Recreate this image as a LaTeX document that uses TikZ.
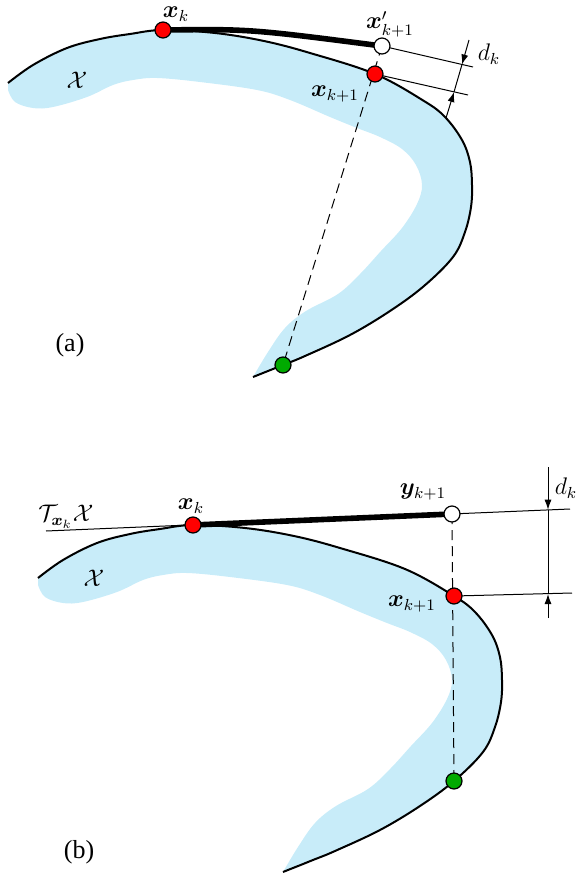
\documentclass[tikz,border=0pt]{standalone}
\usepackage{amsmath,bm}
\usepackage{fontspec}
\setmainfont{Liberation Serif}
\usetikzlibrary{arrows.meta}
\definecolor{regionblue}{RGB}{200,236,249}
\definecolor{dotgreen}{RGB}{0,170,0}
\begin{document}
\begin{tikzpicture}[x=0.5pt,y=-0.5pt,
  lbl/.style={inner sep=1pt, font=\fontsize{12}{14}\selectfont},
  tag/.style={inner sep=1pt, font=\fontsize{13}{15}\selectfont},
  region/.style={fill=regionblue},
  bound/.style={line width=1pt},
  thickarc/.style={line width=2.8pt},
  thinline/.style={line width=0.5pt},
  dashedline/.style={line width=0.5pt, dash pattern=on 5pt off 3pt},
  dimline/.style={line width=0.5pt},
  dimarrow/.style={line width=0.5pt,-{Latex[length=5pt,width=3.5pt]}},
  pt/.style={circle, draw=black, line width=0.6pt, minimum size=8pt, inner sep=0pt},
  redpt/.style={pt, fill=red},
  whitept/.style={pt, fill=white},
  greenpt/.style={pt, fill=dotgreen}]

\useasboundingbox (0,0) rectangle (576,873);

% the region and its boundary, drawn in both panels
\foreach \dx/\dy in {0/0,30/495}{
 \begin{scope}[shift={(\dx,\dy)}]
  \fill[region] plot[smooth,tension=0.6] coordinates {(8,83) (33,65) (67,48) (100,39) (130,34) (163,30) (215,33) (264,41) (310,53) (375,74) (424,101) (445,117) (462,140) (470,162) (472,185) (471,207) (465,232) (453,257) (424,286) (390,311) (350,335) (305,356) (283,365) (253,377)}
   -- plot[smooth,tension=0.6] coordinates {(253,377) (268,352) (285,328) (306,311) (338,294) (360,274) (381,251) (402,228) (417,204) (422,185) (416,165) (402,149) (380,137) (357,128) (330,117) (290,100) (257,90) (200,82) (157,78) (133,80) (113,85) (87,97) (53,107) (33,108) (15,102) (8,90)} -- cycle;
  \draw[bound] plot[smooth,tension=0.6] coordinates {(8,83) (33,65) (67,48) (100,39) (130,34) (163,30) (215,33) (264,41) (310,53) (375,74) (424,101) (445,117) (462,140) (470,162) (472,185) (471,207) (465,232) (453,257) (424,286) (390,311) (350,335) (305,356) (283,365) (253,377)};
 \end{scope}}

% ---------------- panel (a)
\coordinate (axk) at (163,30);
\coordinate (axp) at (382,46);
\coordinate (axn) at (375,74);
\coordinate (ag) at (283,365);
\coordinate (ae1) at (473,67);
\coordinate (ae2) at (468,95);
\coordinate (ad1) at (469,40);
\coordinate (ad2) at (462,64.5);
\coordinate (ad3) at (454,92);
\coordinate (ad4) at (446,118);

\draw[dashedline] (axp) -- (ag);
\draw[thinline] (axp) -- (ae1);
\draw[thinline] (axn) -- (ae2);
\draw[dimline] (ad2) -- (ad3);
\draw[dimarrow] (ad1) -- (ad2);
\draw[dimarrow] (ad4) -- (ad3);
\draw[thickarc] (axk) .. controls (250,29) .. (axp);

\node[redpt] (axkdot) at (axk) {};
\node[whitept] (axpdot) at (axp) {};
\node[redpt] (axndot) at (axn) {};
\node[greenpt] (agdot) at (ag) {};

\node[lbl] (lxk) at (176,14) {$\bm{x}_k$};
\node[lbl] (lxp) at (390,24) {$\bm{x}'_{k+1}$};
\node[lbl] (ldk) at (489,54) {$d_k$};
\node[lbl] (lxn) at (335,94) {$\bm{x}_{k+1}$};
\node[lbl] (lXa) at (77,80) {$\mathcal{X}$};
\node[tag] (la) at (70,345) {(a)};

% ---------------- panel (b)
\coordinate (bts) at (46,531);
\coordinate (bxk) at (193,525);
\coordinate (by) at (452,514);
\coordinate (bte) at (570,509);
\coordinate (bxn) at (454,596);
\coordinate (bg) at (454,781);
\coordinate (be2) at (572,593);
\coordinate (bd1) at (548,467);
\coordinate (bd2) at (548,509.7);
\coordinate (bd3) at (548,594);
\coordinate (bd4) at (548,618);

\draw[thinline] (bts) -- (bte);
\draw[dashedline] (by) -- (bg);
\draw[thinline] (bxn) -- (be2);
\draw[dimline] (bd2) -- (bd3);
\draw[dimarrow] (bd1) -- (bd2);
\draw[dimarrow] (bd4) -- (bd3);
\draw[thickarc] (bxk) -- (by);

\node[redpt] (bxkdot) at (bxk) {};
\node[whitept] (bydot) at (by) {};
\node[redpt] (bxndot) at (bxn) {};
\node[greenpt] (bgdot) at (bg) {};

\node[lbl] (lT) at (66,517) {$\mathcal{T}_{\bm{x}_k}\mathcal{X}$};
\node[lbl] (lbxk) at (191,506) {$\bm{x}_k$};
\node[lbl] (lby) at (423,492) {$\bm{y}_{k+1}$};
\node[lbl] (lbdk) at (566,488) {$d_k$};
\node[lbl] (lbxn) at (412,604) {$\bm{x}_{k+1}$};
\node[lbl] (lXb) at (94,578) {$\mathcal{X}$};
\node[tag] (lb) at (79,852) {(b)};
\end{tikzpicture}
\end{document}
